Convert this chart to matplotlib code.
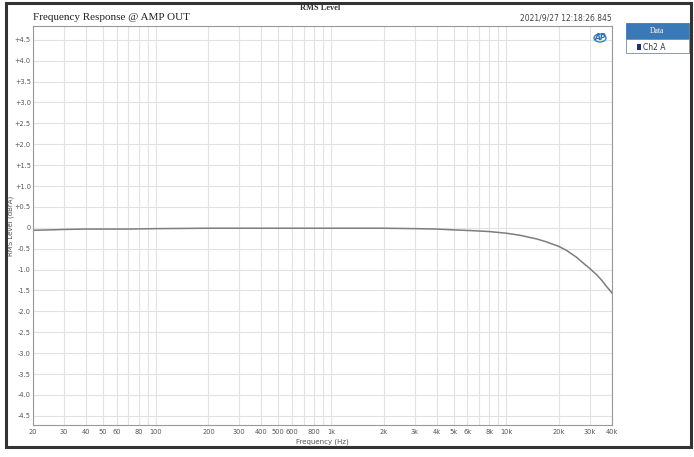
import matplotlib
matplotlib.use("Agg")
import matplotlib.pyplot as plt
from matplotlib.patches import Rectangle, Circle

# frequency response, Ch2 A
freq_hz = [20, 25, 30, 40, 50, 70, 100, 200, 500, 1000, 2000, 3000, 4000, 5000,
           6500, 8000, 10000, 12000, 15000, 17000, 20000, 22000, 25000, 27000,
           30000, 33000, 35000, 37000, 40000]
level_db = [-0.06, -0.05, -0.04, -0.03, -0.03, -0.03, -0.02, -0.01, -0.01, -0.01,
            -0.01, -0.02, -0.03, -0.05, -0.07, -0.09, -0.13, -0.18, -0.27, -0.34,
            -0.45, -0.54, -0.70, -0.82, -0.98, -1.14, -1.26, -1.39, -1.56]

xticks = [20, 30, 40, 50, 60, 80, 100, 200, 300, 400, 500, 600, 800, 1000,
          2000, 3000, 4000, 5000, 6000, 8000, 10000, 20000, 30000, 40000]
xtick_labels = ["20", "30", "40", "50", "60", "80", "100", "200", "300", "400",
                "500", "600", "800", "1k", "2k", "3k", "4k", "5k", "6k", "8k",
                "10k", "20k", "30k", "40k"]
xgrid = [20, 30, 40, 50, 60, 70, 80, 90, 100, 200, 300, 400, 500, 600, 700, 800,
         900, 1000, 2000, 3000, 4000, 5000, 6000, 7000, 8000, 9000, 10000,
         20000, 30000, 40000]
yticks = [4.5 - 0.5 * i for i in range(19)]


def ylab(v):
    if abs(v) < 1e-9:
        return "0"
    return ("+%.1f" % v) if v > 0 else ("%.1f" % v)


W, H = 694, 457
fig = plt.figure(figsize=(W / 100, H / 100), dpi=100)
fig.patch.set_facecolor("white")

# outer dark frame
fig.patches.append(Rectangle((6 / W, 1 - 447 / H), 685 / W, 444 / H,
                             transform=fig.transFigure, fill=False,
                             edgecolor="#333333", linewidth=2.2))

ax = fig.add_axes([33 / W, 1 - 425 / H, 579 / W, 399 / H])
ax.set_xscale("log")
ax.set_xlim(20, 40000)
ax.set_ylim(-4.72, 4.83)

for g in xgrid:
    ax.axvline(g, color="#e2e2e2", lw=0.8, zorder=0)
for g in yticks:
    ax.axhline(g, color="#e2e2e2", lw=0.8, zorder=0)

ax.plot(freq_hz, level_db, color="#7d7d7d", lw=1.1)

ax.set_xticks(xticks)
ax.set_xticklabels(xtick_labels)
ax.xaxis.set_minor_locator(matplotlib.ticker.NullLocator())
ax.set_yticks(yticks)
ax.set_yticklabels([ylab(v) for v in yticks])
ax.tick_params(length=0, labelsize=4.8, colors="#555555")
ax.tick_params(axis="x", pad=3)
ax.tick_params(axis="y", pad=1.5)
for s in ax.spines.values():
    s.set_color("#999999")
    s.set_linewidth(0.8)

ax.set_xlabel("Frequency (Hz)", fontsize=5, color="#555555")
ax.xaxis.set_label_coords(0.5, -0.035)
ax.set_ylabel("RMS Level (dBrA)", fontsize=5, color="#555555")
ax.yaxis.set_label_coords(-18.5 / 579, 0.5)

fig.text(33 / W, 1 - 18 / H, "Frequency Response @ AMP OUT", family="Liberation Serif",
         fontsize=8, color="#222222", va="center")
fig.text(320 / W, 1 - 8 / H, "RMS Level", family="Liberation Serif", fontsize=6,
         weight="bold", color="#333333", ha="center", va="center")
fig.text(612 / W, 1 - 18 / H, "2021/9/27 12:18:26.845", fontsize=5.5,
         color="#444444", ha="right", va="center")

# AP logo
fig.patches.append(Circle((600 / W, 1 - 38 / H), 6 / W, transform=fig.transFigure,
                          fill=False, edgecolor="#3c7fc0", linewidth=1.0))
fig.text(600 / W, 1 - 38 / H, "AP", fontsize=5.5, weight="bold", style="italic",
         color="#2f6fae", ha="center", va="center")

# legend panel
fig.patches.append(Rectangle((626 / W, 1 - 39 / H), 63 / W, 16 / H,
                             transform=fig.transFigure, facecolor="#3a79b8",
                             edgecolor="#3a79b8", linewidth=0.6))
fig.text(657 / W, 1 - 31 / H, "Data", fontsize=5.5, color="white", ha="center",
         va="center", family="Liberation Serif")
fig.patches.append(Rectangle((626 / W, 1 - 53 / H), 63 / W, 14 / H,
                             transform=fig.transFigure, facecolor="white",
                             edgecolor="#7a8a9a", linewidth=0.6))
fig.patches.append(Rectangle((637 / W, 1 - 50 / H), 4 / W, 6 / H,
                             transform=fig.transFigure, facecolor="#1f2f6e",
                             edgecolor="none"))
fig.text(643 / W, 1 - 47 / H, "Ch2 A", fontsize=5.5, color="#333333", va="center")

fig.savefig("out.png", dpi=100)
